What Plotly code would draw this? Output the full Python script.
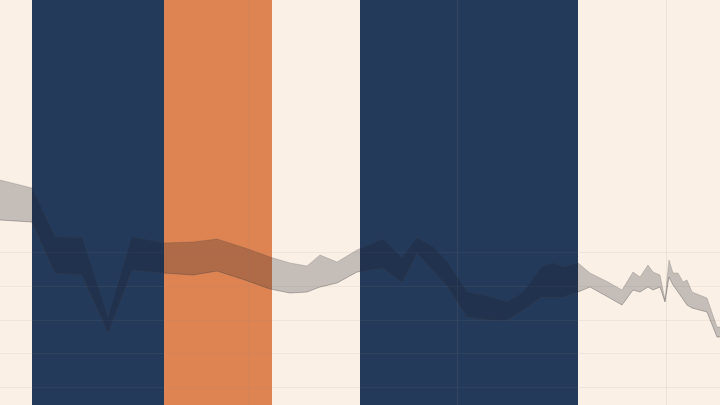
import plotly.graph_objects as go

# Band (range) series: x position, upper and lower values (value = height above the bottom)
x_vals = [0, 32, 55, 82, 108, 132, 164, 193, 217, 245, 270, 290, 307, 320, 337, 357,
          383, 402, 417, 433, 448, 467, 490, 507, 523, 541, 553, 563, 578,
          590, 608, 622, 633, 640, 648, 653, 660, 665, 669, 673, 678, 683, 687,
          692, 707, 717, 720]
upper_px = [180, 188, 237, 238, 318, 237, 243, 242, 239, 248, 257, 263, 266, 255, 262, 250,
            239, 258, 238, 247, 263, 292, 297, 302, 293, 267, 263, 267, 263,
            273, 282, 290, 272, 277, 265, 272, 275, 300, 260, 273, 273, 282, 280,
            292, 298, 327, 327]
lower_px = [220, 222, 273, 275, 333, 270, 273, 275, 271, 280, 289, 293, 292, 287, 283, 272,
            268, 282, 253, 270, 287, 317, 320, 320, 310, 297, 297, 297, 292,
            287, 297, 305, 290, 292, 287, 290, 287, 302, 277, 285, 292, 300, 305,
            308, 312, 337, 337]
upper = [405 - v for v in upper_px]
lower = [405 - v for v in lower_px]

# Shaded periods
period_start = [32, 164, 360]
period_end = [164, 272, 578]
period_color = ["#243a5b", "#de8453", "#243a5b"]

grid_x = [248, 457, 666]
grid_y = [18, 52, 85, 119, 153]

fig = go.Figure()
fig.add_trace(go.Scatter(x=x_vals, y=lower, mode="lines",
                         line=dict(color="rgba(60,60,65,0.35)", width=1),
                         hoverinfo="skip", showlegend=False))
fig.add_trace(go.Scatter(x=x_vals, y=upper, mode="lines", fill="tonexty",
                         fillcolor="rgba(20,25,35,0.23)",
                         line=dict(color="rgba(60,60,65,0.2)", width=1),
                         hoverinfo="skip", showlegend=False))

for s, e, c in zip(period_start, period_end, period_color):
    fig.add_shape(type="rect", xref="x", yref="paper", x0=s, x1=e, y0=0, y1=1,
                  fillcolor=c, line=dict(width=0), layer="below")

fig.update_layout(
    width=720, height=405,
    margin=dict(l=0, r=0, t=0, b=0),
    paper_bgcolor="#faf0e6", plot_bgcolor="#faf0e6",
    xaxis=dict(range=[0, 720], tickvals=grid_x, showticklabels=False,
               showgrid=True, gridcolor="rgba(150,140,130,0.14)", gridwidth=1,
               zeroline=False, showline=False, fixedrange=True),
    yaxis=dict(range=[0, 405], tickvals=grid_y, showticklabels=False,
               showgrid=True, gridcolor="rgba(150,140,130,0.10)", gridwidth=1,
               zeroline=False, showline=False, fixedrange=True),
    showlegend=False,
)

fig.write_html("out.html", config={"displayModeBar": False},
               post_script="document.body.style.margin='0';document.body.style.overflow='hidden';")
